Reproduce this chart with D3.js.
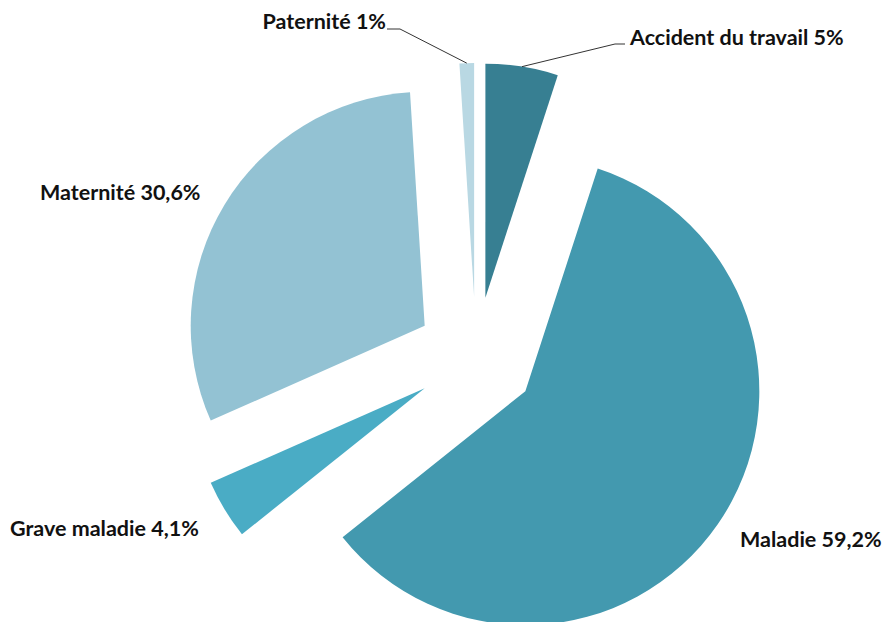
<!DOCTYPE html>
<html>
<head>
<meta charset="utf-8">
<script src="https://cdn.jsdelivr.net/npm/d3@7"></script>
<style>
  body { margin: 0; background: #fff; }
  text { font-family: Lato, "Open Sans", sans-serif; font-weight: bold; fill: #111; }
</style>
</head>
<body>
<div id="chart"></div>
<script>
// data, clockwise from the top
var labels = ["Accident du travail", "Maladie", "Grave maladie", "Maternité", "Paternité"];
var values = [5, 59.2, 4.1, 30.6, 1];
var valueText = ["5%", "59,2%", "4,1%", "30,6%", "1%"];
var colors = ["#377f92", "#4399af", "#4aacc5", "#93c2d3", "#b9d8e3"];

// label placement: x, y (baseline), anchor, leader elbow (or null)
var labelPos = [
    {x: 630, y: 45, anchor: "start", elbow: [615, 44]},
    {x: 740, y: 547, anchor: "start", elbow: null},
    {x: 10, y: 536, anchor: "start", elbow: null},
    {x: 40, y: 200, anchor: "start", elbow: null},
    {x: 386, y: 29, anchor: "end", elbow: [400, 29]}
];

var W = 887, H = 622;
var cx = 476, cy = 357;   // pie centre
var radius = 234;
var explode = 60;         // every slice pulled out by the same amount

var svg = d3.select("#chart").append("svg").attr("width", W).attr("height", H);

var pie = d3.pie().sort(null).value(function(d){ return d; });
var arc = d3.arc().innerRadius(0).outerRadius(radius);
var slices = pie(values);

// offset of a slice along its mid angle
function sliceCentre(d){
    var mid = (d.startAngle + d.endAngle) / 2;
    return [cx + explode * Math.sin(mid), cy - explode * Math.cos(mid)];
}

svg.selectAll("path.slice").data(slices).enter().append("path")
    .attr("class", "slice")
    .attr("d", arc)
    .attr("fill", function(d, i){ return colors[i]; })
    .attr("transform", function(d){
        var c = sliceCentre(d);
        return "translate(" + c[0] + "," + c[1] + ")";
    });

// leader lines for the two small top slices
slices.forEach(function(d, i){
    var p = labelPos[i];
    if(!p.elbow){ return; }
    var c = sliceCentre(d);
    var mid = (d.startAngle + d.endAngle) / 2;
    var start = [c[0] + radius * Math.sin(mid), c[1] - radius * Math.cos(mid)];
    var endX = p.anchor == "end" ? p.x + 1 : p.x - 5;
    svg.append("polyline")
        .attr("points", [start, p.elbow, [endX, p.elbow[1]]].map(function(q){ return q.join(","); }).join(" "))
        .attr("fill", "none")
        .attr("stroke", "#333")
        .attr("stroke-width", 1);
});

svg.selectAll("text.lbl").data(slices).enter().append("text")
    .attr("class", "lbl")
    .attr("x", function(d, i){ return labelPos[i].x; })
    .attr("y", function(d, i){ return labelPos[i].y; })
    .attr("text-anchor", function(d, i){ return labelPos[i].anchor; })
    .style("font-size", "21.5px")
    .text(function(d, i){ return labels[i] + " " + valueText[i]; });
</script>
</body>
</html>
